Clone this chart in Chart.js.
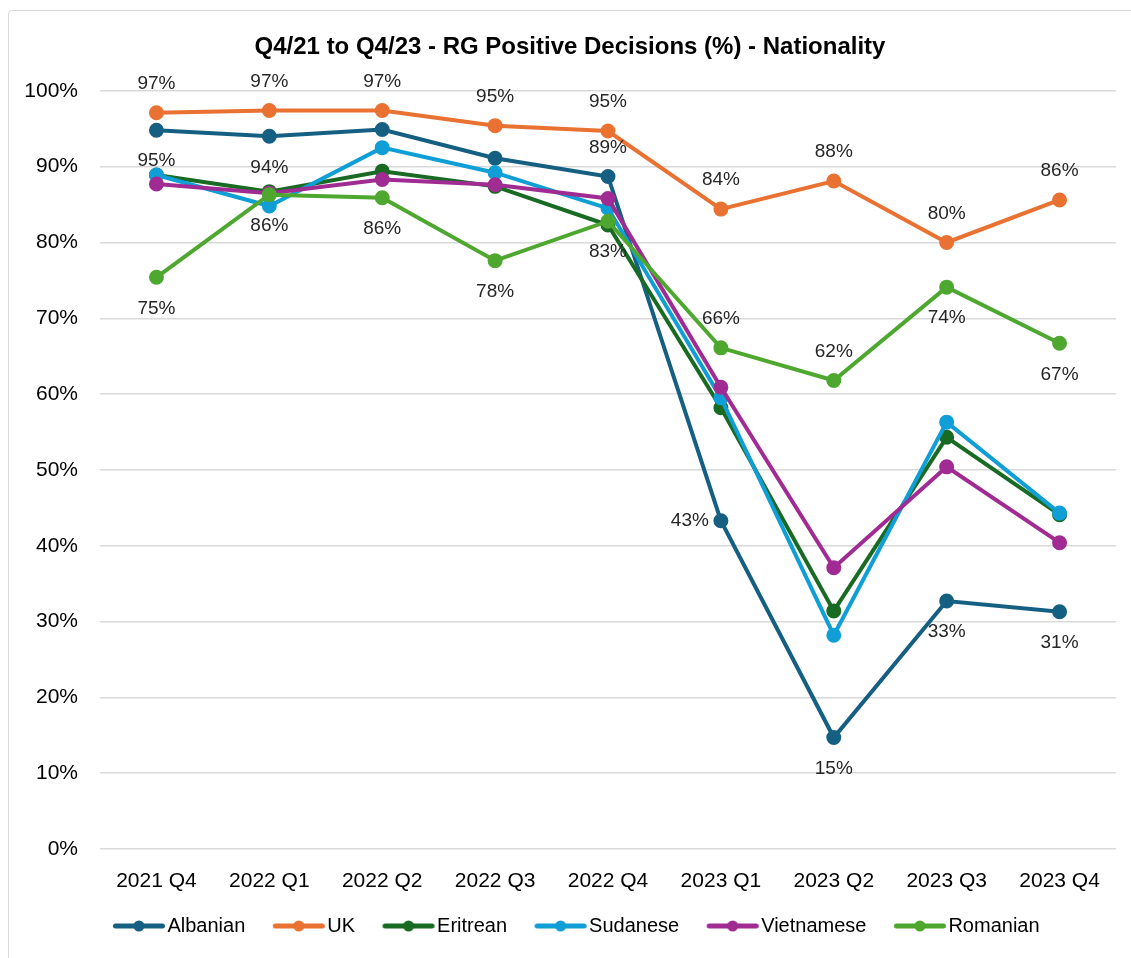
<!DOCTYPE html>
<html>
<head>
<meta charset="utf-8">
<script src="https://cdn.jsdelivr.net/npm/chart.js@4/dist/chart.umd.min.js"></script>
<style>
  html, body { margin: 0; padding: 0; background: #fff; }
  #wrap { position: relative; width: 1131px; height: 958px; overflow: hidden; }
  #frame { position: absolute; left: 8px; top: 10px; width: 1140px; height: 960px;
           border: 1.5px solid #d9d9d9; border-radius: 4px; pointer-events: none; }
  canvas { position: absolute; left: 0; top: 0; }
</style>
</head>
<body>
<div id="wrap">
  <canvas id="rgChart" width="1131" height="958"></canvas>
  <div id="frame"></div>
</div>
<script>
// setup block
const quarters = ['2021 Q4', '2022 Q1', '2022 Q2', '2022 Q3', '2022 Q4', '2023 Q1', '2023 Q2', '2023 Q3', '2023 Q4'];

const albanian   = [94.8, 94.0, 94.9, 91.1, 88.7, 43.3, 14.7, 32.7, 31.3];
const uk         = [97.1, 97.4, 97.4, 95.4, 94.7, 84.4, 88.1, 80.0, 85.6];
const eritrean   = [88.9, 86.7, 89.4, 87.4, 82.3, 58.2, 31.4, 54.3, 44.1];
const sudanese   = [88.9, 84.8, 92.5, 89.2, 84.5, 59.5, 28.2, 56.3, 44.3];
const vietnamese = [87.7, 86.5, 88.3, 87.6, 85.8, 60.9, 37.1, 50.4, 40.4];
const romanian   = [75.4, 86.3, 85.9, 77.6, 82.8, 66.1, 61.8, 74.1, 66.7];

const yTicks = [0, 10, 20, 30, 40, 50, 60, 70, 80, 90, 100];

// where each series shows its value label (null = no label)
const albanianLabels = ['below', 'below', null, null, 'above', 'left', 'below', 'below', 'below'];
const ukLabels       = ['above', 'above', 'above', 'above', 'above', 'above', 'above', 'above', 'above'];
const romanianLabels = ['below', 'below', 'below', 'below', 'below', 'above', 'above', 'below', 'below'];

const colors = {
    Albanian: '#156082',
    UK: '#E97132',
    Eritrean: '#196B24',
    Sudanese: '#0F9ED5',
    Vietnamese: '#A02B93',
    Romanian: '#4EA72E'
};

function series(label, values, order, valueLabels) {
    return {
        label: label,
        data: values,
        borderColor: colors[label],
        backgroundColor: colors[label],
        pointBackgroundColor: colors[label],
        pointBorderColor: colors[label],
        borderWidth: 4,
        pointRadius: 5.5,
        pointHoverRadius: 5.5,
        tension: 0,
        order: order, // later series sit on top, like the original
        valueLabels: valueLabels
    };
}

const data = {
    labels: quarters,
    datasets: [
        series('Albanian', albanian, 6, albanianLabels),
        series('UK', uk, 5, ukLabels),
        series('Eritrean', eritrean, 4, null),
        series('Sudanese', sudanese, 3, null),
        series('Vietnamese', vietnamese, 2, null),
        series('Romanian', romanian, 1, romanianLabels)
    ]
};

// legend marker: short thick line with a dot, sitting at the right of the box
function legendMarker(color) {
    const c = document.createElement('canvas');
    c.width = 74;
    c.height = 14;
    const ctx = c.getContext('2d');
    ctx.strokeStyle = color;
    ctx.lineWidth = 5;
    ctx.lineCap = 'round';
    ctx.beginPath();
    ctx.moveTo(23.5, 7);
    ctx.lineTo(70.5, 7);
    ctx.stroke();
    ctx.fillStyle = color;
    ctx.beginPath();
    ctx.arc(47, 7, 5.5, 0, Math.PI * 2);
    ctx.fill();
    return c;
}

// draws the % labels next to the points
const valueLabelPlugin = {
    id: 'valueLabels',
    afterDatasetsDraw(chart) {
        const ctx = chart.ctx;
        ctx.save();
        ctx.font = '19px "Liberation Sans", Arial, sans-serif';
        ctx.fillStyle = '#262626';
        ctx.textBaseline = 'middle';
        chart.data.datasets.forEach((ds, i) => {
            if (!ds.valueLabels) return;
            const meta = chart.getDatasetMeta(i);
            meta.data.forEach((pt, j) => {
                const pos = ds.valueLabels[j];
                if (!pos) return;
                const txt = Math.round(ds.data[j]) + '%';
                let x = pt.x, y = pt.y;
                ctx.textAlign = 'center';
                if (pos === 'above') y -= 29;
                if (pos === 'below') y += 31;
                if (pos === 'left') { x -= 12; ctx.textAlign = 'right'; }
                ctx.fillText(txt, x, y);
            });
        });
        ctx.restore();
    }
};

// config block
const config = {
    type: 'line',
    data,
    options: {
        responsive: false,
        animation: false,
        layout: {
            padding: { left: 24, right: 15, top: 0, bottom: 12 }
        },
        plugins: {
            title: {
                display: true,
                text: 'Q4/21 to Q4/23 - RG Positive Decisions (%) - Nationality',
                color: '#000',
                font: { family: '"Liberation Sans", Arial, sans-serif', size: 24, weight: 'bold' },
                padding: { top: 33, bottom: 29 }
            },
            legend: {
                position: 'bottom',
                labels: {
                    usePointStyle: true,
                    pointStyleWidth: 57,
                    padding: 15,
                    color: '#000',
                    font: { family: '"Liberation Sans", Arial, sans-serif', size: 20 },
                    sort: (a, b) => a.datasetIndex - b.datasetIndex,
                    generateLabels: chart => {
                        const items = Chart.defaults.plugins.legend.labels.generateLabels(chart);
                        items.forEach(it => {
                            it.pointStyle = legendMarker(chart.data.datasets[it.datasetIndex].borderColor);
                        });
                        return items;
                    }
                }
            },
            tooltip: { enabled: false }
        },
        scales: {
            x: {
                offset: true,
                grid: { display: false, drawTicks: false },
                border: { display: false },
                ticks: {
                    color: '#000',
                    padding: 20,
                    font: { family: '"Liberation Sans", Arial, sans-serif', size: 21 }
                },
                afterFit: scale => { scale.height = 52; }
            },
            y: {
                min: 0,
                max: 100,
                afterBuildTicks: scale => { scale.ticks = yTicks.map(v => ({ value: v })); },
                grid: { color: '#d9d9d9', lineWidth: 1.5, drawTicks: false },
                border: { display: false },
                ticks: {
                    color: '#000',
                    padding: 22,
                    font: { family: '"Liberation Sans", Arial, sans-serif', size: 21 },
                    callback: v => v + '%'
                },
                afterFit: scale => { scale.width = 76; }
            }
        }
    },
    plugins: [valueLabelPlugin]
};

// render init block
const rgChart = new Chart(
    document.getElementById('rgChart'),
    config
);
</script>
</body>
</html>
